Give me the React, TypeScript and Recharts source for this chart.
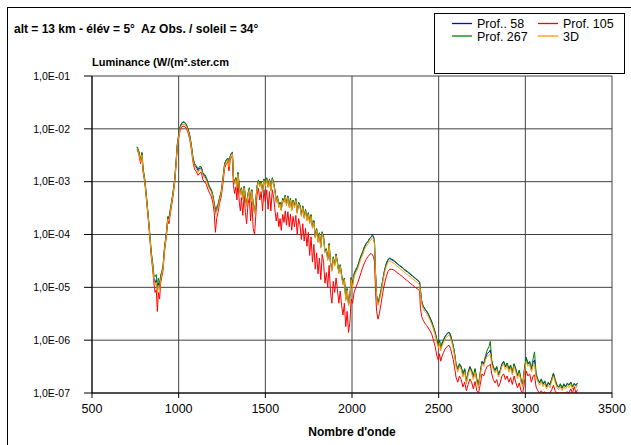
import React from 'react';
import { LineChart, Line, XAxis, YAxis, CartesianGrid } from 'recharts';

const FONT = '"Liberation Sans", Arial, Helvetica, sans-serif';

// ---- wavenumbers (cm-1), split by spectral region ----
const W_A = [760,770,780,788,795,805,815,825,833,842,850,857,864,871,877,883,890,896,903,910,918,929,938,944,950,958,967,977,985,992,1000,1008,1017,1025,1035,1044,1053,1063,1073,1083,1092,1102,1112,1121,1131,1140,1150,1160,1170,1179,1189,1198,1205,1212,1219,1227,1236,1246,1256,1265,1275,1284,1290,1297,1304,1310];
const W_B = [1316,1323,1330,1336,1342,1350,1356,1362,1370,1378,1385,1392,1400,1408,1415,1422,1430,1438,1446,1452,1460,1468,1476,1484,1492,1500,1508,1516,1524,1532,1540,1548,1556,1563,1570,1578,1585,1592,1600,1608,1615,1622,1630,1638,1645,1652,1660,1668,1676,1684,1692,1700,1708,1716,1724,1732,1740,1748,1756,1764,1772,1780,1788,1796,1804,1812,1820,1828,1836,1844,1852,1860,1868,1876,1884,1892,1900,1908,1916,1924,1932,1940,1948,1956,1964,1972,1980,1988];
const W_C = [1995,2003,2012,2022,2032,2042,2052,2062,2072,2082,2092,2102,2110,2118,2124,2130,2136,2142,2150,2158,2168,2178,2188,2198,2208,2218,2230,2245,2260,2275,2290,2305,2320,2335,2350,2365,2380,2390];
const W_D = [2395,2402,2410,2420,2430,2440,2450,2460,2470,2480,2490,2498,2505,2512,2520,2528,2536,2544,2552,2560,2568,2576,2584,2592,2600,2610,2620,2630,2640,2650,2660,2670,2680,2690,2700,2710,2720,2730,2740,2750,2760,2770,2780,2790,2798,2806,2815,2825,2835,2845,2855,2865,2875,2885,2895,2905,2915,2925,2935,2945,2955,2965,2975,2985,2995,3005,3015,3025,3035,3045,3053,3062,3072,3082,3092,3102,3112,3122,3132,3142,3152,3162,3172,3182,3192,3202,3212,3222,3232,3242,3252,3262,3272,3282,3292,3300];

// ---- Prof.. 58 ----
const P58_A = [4.5e-3,3.7e-3,2.5e-3,3.4e-3,1.7e-3,1.05e-3,4.8e-4,2.1e-4,1.05e-4,4.4e-5,2.7e-5,1.5e-5,1.2e-5,1.4e-5,8.5e-6,1.2e-5,9.6e-6,1.5e-5,1.9e-5,2.5e-5,5.3e-5,1.05e-4,2.15e-4,1.95e-4,2.6e-4,3.9e-4,6.0e-4,1.08e-3,2.4e-3,5.1e-3,7.7e-3,1.08e-2,1.28e-2,1.36e-2,1.33e-2,1.22e-2,1.0e-2,7.8e-3,4.9e-3,2.7e-3,2.05e-3,1.9e-3,1.62e-3,1.8e-3,1.82e-3,1.36e-3,1.3e-3,1.13e-3,9.0e-4,7.6e-4,6.8e-4,5.2e-4,3.8e-4,2.6e-4,3.0e-4,3.45e-4,4.8e-4,6.5e-4,1.18e-3,2.15e-3,2.6e-3,2.8e-3,2.05e-3,3.0e-3,3.45e-3,3.6e-3];
const P58_B = [1.15e-3,9.3e-4,1.16e-3,8.3e-4,1.47e-3,8.0e-4,5.9e-4,7.5e-4,4.7e-4,8.0e-4,5.25e-4,3.5e-4,5.9e-4,7.5e-4,4.2e-4,6.9e-4,3.7e-4,2.6e-4,4.7e-4,8.0e-4,1.05e-3,8.3e-4,1.0e-3,6.6e-4,1.1e-3,8.7e-4,1.16e-3,8.0e-4,1.1e-3,6.9e-4,1.16e-3,9.3e-4,6.6e-4,4.2e-4,5.25e-4,3.4e-4,4.0e-4,2.95e-4,4.7e-4,4.2e-4,5.5e-4,3.7e-4,5.25e-4,3.4e-4,4.7e-4,2.95e-4,4.4e-4,3.4e-4,4.6e-4,2.6e-4,4.0e-4,3.5e-4,2.3e-4,3.4e-4,2.1e-4,2.95e-4,1.9e-4,2.5e-4,1.7e-4,2.3e-4,1.37e-4,1.8e-4,8.9e-5,1.26e-4,7.4e-5,1.05e-4,5.8e-5,1.1e-4,8.9e-5,4.7e-5,5.25e-5,3.4e-5,6.6e-5,2.95e-5,2.1e-5,3.7e-5,2.6e-5,4.2e-5,2.95e-5,1.9e-5,2.6e-5,1.7e-5,1.15e-5,1.47e-5,5.9e-6,9.3e-6,4.7e-6,6.6e-6];
const P58_C = [1.5e-5,1.1e-5,1.75e-5,2.1e-5,2.4e-5,3.1e-5,3.9e-5,4.6e-5,5.8e-5,6.7e-5,7.4e-5,8.5e-5,9.0e-5,9.8e-5,9.4e-5,7.0e-5,1.8e-5,7.0e-6,5.0e-6,6.2e-6,8.8e-6,1.4e-5,2.1e-5,2.8e-5,3.3e-5,3.5e-5,3.3e-5,3.1e-5,2.8e-5,2.55e-5,2.35e-5,2.1e-5,1.95e-5,1.78e-5,1.62e-5,1.47e-5,1.34e-5,1.25e-5];
const P58_D = [8.6e-6,5.5e-6,4.4e-6,3.9e-6,3.5e-6,3.1e-6,2.6e-6,2.2e-6,1.75e-6,1.4e-6,9.8e-7,7.8e-7,9.8e-7,7.0e-7,8.7e-7,9.8e-7,1.15e-6,1.25e-6,1.35e-6,1.4e-6,1.25e-6,9.8e-7,7.8e-7,5.5e-7,3.5e-7,2.8e-7,3.5e-7,3.1e-7,2.2e-7,2.8e-7,1.65e-7,2.4e-7,3.1e-7,2.65e-7,2.0e-7,2.8e-7,1.8e-7,1.4e-7,2.4e-7,3.9e-7,3.5e-7,4.6e-7,5.6e-7,5.9e-7,6.5e-7,3.9e-7,3.1e-7,2.65e-7,3.1e-7,2.2e-7,2.65e-7,3.5e-7,3.9e-7,3.1e-7,3.6e-7,2.8e-7,3.3e-7,2.4e-7,3.5e-7,2.8e-7,2.1e-7,2.65e-7,1.75e-7,1.45e-7,2.8e-7,4.6e-7,3.5e-7,3.9e-7,2.8e-7,3.8e-7,4.2e-7,2.2e-7,1.8e-7,1.55e-7,1.8e-7,1.45e-7,1.65e-7,1.3e-7,1.55e-7,1.4e-7,1.8e-7,2.3e-7,1.75e-7,1.4e-7,1.28e-7,1.45e-7,1.22e-7,1.45e-7,1.3e-7,1.5e-7,1.4e-7,1.6e-7,1.3e-7,1.5e-7,1.38e-7,1.52e-7];

// ---- Prof. 105 ----
const P105_A = [4.1e-3,3.3e-3,2.2e-3,3.0e-3,1.5e-3,9.3e-4,4.2e-4,1.85e-4,9.0e-5,3.8e-5,2.2e-5,1.2e-5,8.0e-6,9.0e-6,3.5e-6,8.0e-6,6.0e-6,1.2e-5,1.6e-5,2.1e-5,4.6e-5,9.0e-5,1.8e-4,1.6e-4,2.2e-4,3.3e-4,5.2e-4,9.3e-4,2.0e-3,4.4e-3,6.6e-3,9.3e-3,1.08e-2,1.13e-2,1.1e-2,1.03e-2,8.6e-3,6.6e-3,4.1e-3,2.3e-3,1.7e-3,1.55e-3,1.32e-3,1.45e-3,1.5e-3,1.08e-3,1.0e-3,8.8e-4,7.0e-4,6.0e-4,5.2e-4,3.9e-4,2.6e-4,1.1e-4,2.0e-4,2.6e-4,3.9e-4,5.3e-4,9.5e-4,1.8e-3,2.2e-3,2.4e-3,1.6e-3,2.5e-3,2.9e-3,3.1e-3];
const P105_B = [8.5e-4,6.0e-4,8.0e-4,4.5e-4,1.0e-3,4.0e-4,2.8e-4,5.0e-4,2.3e-4,5.5e-4,2.6e-4,1.6e-4,3.8e-4,5.0e-4,1.8e-4,4.2e-4,1.3e-4,1.0e-4,2.6e-4,5.5e-4,7.5e-4,4.5e-4,6.5e-4,2.8e-4,7.0e-4,4.2e-4,7.0e-4,3.0e-4,6.5e-4,2.8e-4,7.0e-4,5.0e-4,2.8e-4,1.8e-4,2.6e-4,1.4e-4,2.0e-4,1.2e-4,2.4e-4,1.7e-4,2.8e-4,1.5e-4,2.7e-4,1.4e-4,2.4e-4,1.2e-4,2.2e-4,1.4e-4,2.3e-4,1.0e-4,2.0e-4,1.5e-4,8.0e-5,1.6e-4,7.5e-5,1.3e-4,6.0e-5,1.1e-4,4.0e-5,9.0e-5,3.0e-5,6.5e-5,2.2e-5,4.5e-5,1.8e-5,3.6e-5,1.4e-5,4.2e-5,3.0e-5,1.2e-5,1.9e-5,1.0e-5,2.6e-5,8.0e-6,5.0e-6,1.3e-5,8.0e-6,1.5e-5,9.0e-6,5.0e-6,8.5e-6,4.5e-6,3.0e-6,5.0e-6,1.8e-6,3.5e-6,1.4e-6,2.2e-6];
const P105_C = [6.0e-6,5.0e-6,8.0e-6,1.0e-5,1.2e-5,1.5e-5,1.9e-5,2.4e-5,2.9e-5,3.4e-5,3.8e-5,4.2e-5,4.4e-5,4.1e-5,3.8e-5,3.0e-5,8.0e-6,3.5e-6,2.5e-6,3.2e-6,5.0e-6,8.0e-6,1.2e-5,1.6e-5,2.0e-5,2.2e-5,2.2e-5,2.1e-5,1.9e-5,1.75e-5,1.6e-5,1.45e-5,1.32e-5,1.2e-5,1.1e-5,1.0e-5,9.2e-6,8.6e-6];
const P105_D = [4.0e-6,2.8e-6,2.4e-6,2.1e-6,1.9e-6,1.7e-6,1.5e-6,1.3e-6,1.0e-6,7.5e-7,5.0e-7,4.2e-7,5.5e-7,4.0e-7,5.0e-7,5.8e-7,6.8e-7,7.2e-7,7.8e-7,8.0e-7,7.0e-7,5.5e-7,4.3e-7,3.0e-7,2.0e-7,1.6e-7,2.1e-7,1.8e-7,1.3e-7,1.6e-7,1.1e-7,1.45e-7,1.85e-7,1.6e-7,1.2e-7,1.65e-7,1.1e-7,1.0e-7,1.45e-7,2.3e-7,2.1e-7,2.7e-7,3.2e-7,3.3e-7,3.5e-7,2.3e-7,1.8e-7,1.55e-7,1.8e-7,1.3e-7,1.55e-7,2.1e-7,2.3e-7,1.8e-7,2.1e-7,1.6e-7,1.95e-7,1.45e-7,2.1e-7,1.6e-7,1.25e-7,1.55e-7,1.1e-7,1.0e-7,1.6e-7,2.6e-7,2.1e-7,2.3e-7,1.6e-7,2.1e-7,2.2e-7,1.3e-7,1.1e-7,1.0e-7,1.1e-7,1.0e-7,1.05e-7,1.0e-7,1.0e-7,1.0e-7,1.15e-7,1.4e-7,1.1e-7,1.0e-7,1.0e-7,1.0e-7,1.0e-7,1.0e-7,1.0e-7,1.05e-7,1.0e-7,1.2e-7,1.0e-7,1.3e-7,1.0e-7,1.15e-7];

// ---- Prof. 267 ----
const P267_A = [4.6e-3,3.8e-3,2.6e-3,3.6e-3,1.75e-3,1.1e-3,5.0e-4,2.2e-4,1.1e-4,4.6e-5,3.0e-5,1.7e-5,1.6e-5,1.75e-5,1.0e-5,1.5e-5,1.1e-5,1.7e-5,2.0e-5,2.6e-5,5.6e-5,1.1e-4,2.2e-4,2.1e-4,2.8e-4,4.0e-4,6.2e-4,1.1e-3,2.4e-3,5.0e-3,7.6e-3,1.07e-2,1.26e-2,1.32e-2,1.3e-2,1.2e-2,1.0e-2,7.8e-3,5.0e-3,2.8e-3,2.2e-3,2.0e-3,1.72e-3,1.95e-3,1.9e-3,1.45e-3,1.38e-3,1.2e-3,9.5e-4,8.0e-4,7.0e-4,5.4e-4,4.0e-4,3.0e-4,3.4e-4,3.7e-4,5.0e-4,6.6e-4,1.2e-3,2.2e-3,2.6e-3,2.8e-3,2.1e-3,3.0e-3,3.4e-3,3.6e-3];
const P267_B = [1.2e-3,9.6e-4,1.2e-3,8.5e-4,1.5e-3,8.2e-4,6.0e-4,7.7e-4,4.9e-4,8.2e-4,5.4e-4,3.6e-4,6.0e-4,7.7e-4,4.3e-4,7.1e-4,3.8e-4,2.7e-4,4.9e-4,8.2e-4,1.08e-3,8.5e-4,1.03e-3,6.8e-4,1.13e-3,9.0e-4,1.19e-3,8.2e-4,1.13e-3,7.1e-4,1.19e-3,9.6e-4,6.8e-4,4.3e-4,5.4e-4,3.5e-4,4.1e-4,3.0e-4,4.9e-4,4.3e-4,5.6e-4,3.8e-4,5.4e-4,3.5e-4,4.9e-4,3.0e-4,4.5e-4,3.5e-4,4.8e-4,2.7e-4,4.1e-4,3.6e-4,2.4e-4,3.5e-4,2.2e-4,3.0e-4,1.95e-4,2.6e-4,1.75e-4,2.4e-4,1.4e-4,1.85e-4,9.2e-5,1.3e-4,7.6e-5,1.08e-4,6.0e-5,1.13e-4,9.2e-5,4.9e-5,5.4e-5,3.5e-5,6.8e-5,3.0e-5,2.2e-5,3.8e-5,2.7e-5,4.3e-5,3.0e-5,1.95e-5,2.7e-5,1.75e-5,1.2e-5,1.5e-5,6.0e-6,9.6e-6,4.9e-6,6.8e-6];
const P267_C = [1.55e-5,1.15e-5,1.8e-5,2.2e-5,2.5e-5,3.2e-5,4.0e-5,4.8e-5,5.9e-5,6.8e-5,7.4e-5,8.4e-5,8.8e-5,9.5e-5,9.0e-5,6.8e-5,1.8e-5,7.0e-6,5.2e-6,6.4e-6,9.0e-6,1.42e-5,2.15e-5,2.85e-5,3.4e-5,3.6e-5,3.4e-5,3.2e-5,2.85e-5,2.6e-5,2.4e-5,2.15e-5,2.0e-5,1.82e-5,1.65e-5,1.5e-5,1.36e-5,1.27e-5];
const P267_D = [8.8e-6,5.6e-6,4.5e-6,4.0e-6,3.6e-6,3.2e-6,2.7e-6,2.25e-6,1.8e-6,1.42e-6,1.0e-6,8.0e-7,1.0e-6,7.2e-7,9.0e-7,1.0e-6,1.18e-6,1.28e-6,1.38e-6,1.42e-6,1.3e-6,1.0e-6,8.0e-7,5.6e-7,3.6e-7,2.9e-7,3.6e-7,3.2e-7,2.3e-7,2.9e-7,1.7e-7,2.5e-7,3.2e-7,2.7e-7,2.1e-7,2.9e-7,1.85e-7,1.45e-7,2.5e-7,4.0e-7,3.7e-7,5.0e-7,6.5e-7,7.5e-7,9.5e-7,4.2e-7,3.2e-7,2.7e-7,3.2e-7,2.3e-7,2.7e-7,3.6e-7,4.0e-7,3.2e-7,3.7e-7,2.9e-7,3.4e-7,2.5e-7,3.6e-7,2.9e-7,2.15e-7,2.7e-7,1.8e-7,1.5e-7,2.9e-7,4.8e-7,3.6e-7,4.0e-7,2.9e-7,4.5e-7,6.0e-7,2.4e-7,1.85e-7,1.6e-7,1.85e-7,1.5e-7,1.7e-7,1.35e-7,1.6e-7,1.45e-7,1.85e-7,2.4e-7,1.8e-7,1.45e-7,1.3e-7,1.5e-7,1.25e-7,1.5e-7,1.32e-7,1.55e-7,1.42e-7,1.62e-7,1.32e-7,1.52e-7,1.4e-7,1.55e-7];

// ---- 3D ----
const D3_A = [4.3e-3,3.5e-3,2.4e-3,3.2e-3,1.6e-3,1.0e-3,4.5e-4,2.0e-4,9.8e-5,4.1e-5,2.5e-5,1.4e-5,1.1e-5,1.26e-5,7.9e-6,1.1e-5,8.9e-6,1.4e-5,1.8e-5,2.3e-5,5.0e-5,9.8e-5,2.0e-4,1.8e-4,2.4e-4,3.6e-4,5.6e-4,1.0e-3,2.2e-3,4.7e-3,7.1e-3,1.0e-2,1.17e-2,1.23e-2,1.2e-2,1.12e-2,9.3e-3,7.2e-3,4.5e-3,2.5e-3,1.9e-3,1.74e-3,1.5e-3,1.66e-3,1.7e-3,1.26e-3,1.2e-3,1.05e-3,8.3e-4,7.1e-4,6.3e-4,4.8e-4,3.5e-4,2.4e-4,2.8e-4,3.2e-4,4.5e-4,6.0e-4,1.1e-3,2.0e-3,2.4e-3,2.6e-3,1.9e-3,2.8e-3,3.2e-3,3.4e-3];
const D3_B = [1.1e-3,8.9e-4,1.1e-3,7.9e-4,1.4e-3,7.6e-4,5.6e-4,7.1e-4,4.5e-4,7.6e-4,5.0e-4,3.3e-4,5.6e-4,7.1e-4,4.0e-4,6.6e-4,3.5e-4,2.5e-4,4.5e-4,7.6e-4,1.0e-3,7.9e-4,9.5e-4,6.3e-4,1.05e-3,8.3e-4,1.1e-3,7.6e-4,1.05e-3,6.6e-4,1.1e-3,8.9e-4,6.3e-4,4.0e-4,5.0e-4,3.2e-4,3.8e-4,2.8e-4,4.5e-4,4.0e-4,5.2e-4,3.5e-4,5.0e-4,3.2e-4,4.5e-4,2.8e-4,4.2e-4,3.2e-4,4.4e-4,2.5e-4,3.8e-4,3.3e-4,2.2e-4,3.2e-4,2.0e-4,2.8e-4,1.8e-4,2.4e-4,1.6e-4,2.2e-4,1.3e-4,1.7e-4,8.5e-5,1.2e-4,7.0e-5,1.0e-4,5.5e-5,1.05e-4,8.5e-5,4.5e-5,5.0e-5,3.2e-5,6.3e-5,2.8e-5,2.0e-5,3.5e-5,2.5e-5,4.0e-5,2.8e-5,1.8e-5,2.5e-5,1.6e-5,1.1e-5,1.4e-5,5.6e-6,8.9e-6,4.5e-6,6.3e-6];
const D3_C = [1.4e-5,1.0e-5,1.6e-5,1.9e-5,2.2e-5,2.8e-5,3.5e-5,4.2e-5,5.2e-5,6.0e-5,6.6e-5,7.6e-5,7.9e-5,8.7e-5,8.3e-5,6.3e-5,1.6e-5,6.3e-6,4.5e-6,5.6e-6,7.9e-6,1.26e-5,1.9e-5,2.5e-5,3.0e-5,3.2e-5,3.0e-5,2.8e-5,2.5e-5,2.3e-5,2.1e-5,1.9e-5,1.74e-5,1.6e-5,1.45e-5,1.32e-5,1.2e-5,1.12e-5];
const D3_D = [7.9e-6,5.0e-6,4.0e-6,3.5e-6,3.2e-6,2.8e-6,2.4e-6,2.0e-6,1.6e-6,1.26e-6,8.9e-7,7.1e-7,8.9e-7,6.3e-7,7.9e-7,8.9e-7,1.05e-6,1.12e-6,1.2e-6,1.26e-6,1.12e-6,8.9e-7,7.1e-7,5.0e-7,3.2e-7,2.5e-7,3.2e-7,2.8e-7,2.0e-7,2.5e-7,1.5e-7,2.2e-7,2.8e-7,2.4e-7,1.8e-7,2.5e-7,1.6e-7,1.26e-7,2.2e-7,3.5e-7,3.2e-7,4.2e-7,5.0e-7,5.2e-7,5.6e-7,3.5e-7,2.8e-7,2.4e-7,2.8e-7,2.0e-7,2.4e-7,3.2e-7,3.5e-7,2.8e-7,3.3e-7,2.5e-7,3.0e-7,2.2e-7,3.2e-7,2.5e-7,1.9e-7,2.4e-7,1.6e-7,1.32e-7,2.5e-7,4.0e-7,3.2e-7,3.5e-7,2.5e-7,3.3e-7,3.5e-7,2.0e-7,1.66e-7,1.4e-7,1.66e-7,1.32e-7,1.5e-7,1.2e-7,1.4e-7,1.26e-7,1.66e-7,2.1e-7,1.6e-7,1.26e-7,1.17e-7,1.32e-7,1.12e-7,1.32e-7,1.2e-7,1.38e-7,1.26e-7,1.45e-7,1.2e-7,1.38e-7,1.26e-7,1.4e-7];

// ---- axis ticks ----
const X_TICKS = [500, 1000, 1500, 2000, 2500, 3000, 3500];
const Y_TICKS = [1e-7, 1e-6, 1e-5, 1e-4, 1e-3, 1e-2, 1e-1];

const TITLE = 'alt = 13 km - élév = 5°  Az Obs. / soleil = 34°';
const Y_LABEL = 'Luminance (W/(m².ster.cm';
const X_LABEL = "Nombre d'onde";

const SERIES = [
  { key: 'p58', name: 'Prof.. 58', color: '#0000FF' },
  { key: 'p105', name: 'Prof. 105', color: '#FF0000' },
  { key: 'p267', name: 'Prof. 267', color: '#008000' },
  { key: 'd3', name: '3D', color: '#FF9900' },
];

const WAVE = [...W_A, ...W_B, ...W_C, ...W_D];
const P58 = [...P58_A, ...P58_B, ...P58_C, ...P58_D];
const P105 = [...P105_A, ...P105_B, ...P105_C, ...P105_D];
const P267 = [...P267_A, ...P267_B, ...P267_C, ...P267_D];
const D3 = [...D3_A, ...D3_B, ...D3_C, ...D3_D];

const data = WAVE.map((w, i) => ({ w, p58: P58[i], p105: P105[i], p267: P267[i], d3: D3[i] }));

const fmtY = (v: number) => {
  const e = Math.round(Math.log10(v));
  return '1,0E' + (e < 0 ? '-' : '+') + String(Math.abs(e)).padStart(2, '0');
};

const LegendBox = () => (
  <svg style={{ position: 'absolute', left: 434, top: 13 }} width={191} height={61}>
    <rect x={0.5} y={0.5} width={190} height={60} fill="#fff" stroke="#000" strokeWidth={1} />
    {SERIES.map((s, i) => {
      const col = i % 2;
      const row = Math.floor(i / 2);
      const lx = col === 0 ? 18 : 104;
      const ly = row === 0 ? 10.5 : 23;
      return (
        <g key={s.key}>
          <line x1={lx} y1={ly} x2={lx + 20} y2={ly} stroke={s.color} strokeWidth={1.3} />
          <text x={lx + 25} y={ly + 4.5} fontFamily={FONT} fontSize={12.5} fill="#000">{s.name}</text>
        </g>
      );
    })}
  </svg>
);

export default function App() {
  return (
    <div style={{ position: 'absolute', left: 0, top: 0, width: 631, height: 445, background: '#fff', overflow: 'hidden' }}>
      <div style={{ position: 'absolute', left: 7, top: 7, width: 630, height: 445, border: '1px solid #000', boxSizing: 'border-box' }} />
      <div style={{ position: 'absolute', left: 0, top: 0 }}>
        <LineChart width={631} height={445} data={data} margin={{ top: 76, right: 19, bottom: 22, left: 0 }}>
          <CartesianGrid stroke="#404040" strokeWidth={1} horizontal vertical fill="#fff" />
          <XAxis
            dataKey="w"
            type="number"
            domain={[500, 3500]}
            ticks={X_TICKS}
            allowDataOverflow
            height={30}
            tickSize={5}
            tickMargin={6}
            axisLine={{ stroke: '#000' }}
            tickLine={{ stroke: '#000' }}
            tick={{ fill: '#000', fontSize: 12.5, fontFamily: FONT }}
            interval={0}
          />
          <YAxis
            type="number"
            scale="log"
            domain={[1e-7, 1e-1]}
            ticks={Y_TICKS}
            allowDataOverflow
            width={92}
            tickSize={8}
            tickMargin={14}
            tickFormatter={fmtY}
            axisLine={{ stroke: '#000' }}
            tickLine={{ stroke: '#000' }}
            tick={{ fill: '#000', fontSize: 10.5, fontFamily: FONT }}
            interval={0}
          />
          {SERIES.map((s) => (
            <Line
              key={s.key}
              dataKey={s.key}
              name={s.name}
              stroke={s.color}
              strokeWidth={1}
              dot={false}
              activeDot={false}
              type="linear"
              isAnimationActive={false}
            />
          ))}
        </LineChart>
      </div>
      <LegendBox />
      <div style={{ position: 'absolute', left: 14, top: 21, fontFamily: FONT, fontWeight: 'bold', fontSize: 12, whiteSpace: 'pre', lineHeight: '16px' }}>{TITLE}</div>
      <div style={{ position: 'absolute', left: 92, top: 54, fontFamily: FONT, fontWeight: 'bold', fontSize: 11, whiteSpace: 'nowrap', lineHeight: '16px' }}>{Y_LABEL}</div>
      <div style={{ position: 'absolute', left: 352, top: 424, transform: 'translateX(-50%)', fontFamily: FONT, fontWeight: 'bold', fontSize: 12, whiteSpace: 'nowrap', lineHeight: '16px' }}>{X_LABEL}</div>
    </div>
  );
}
